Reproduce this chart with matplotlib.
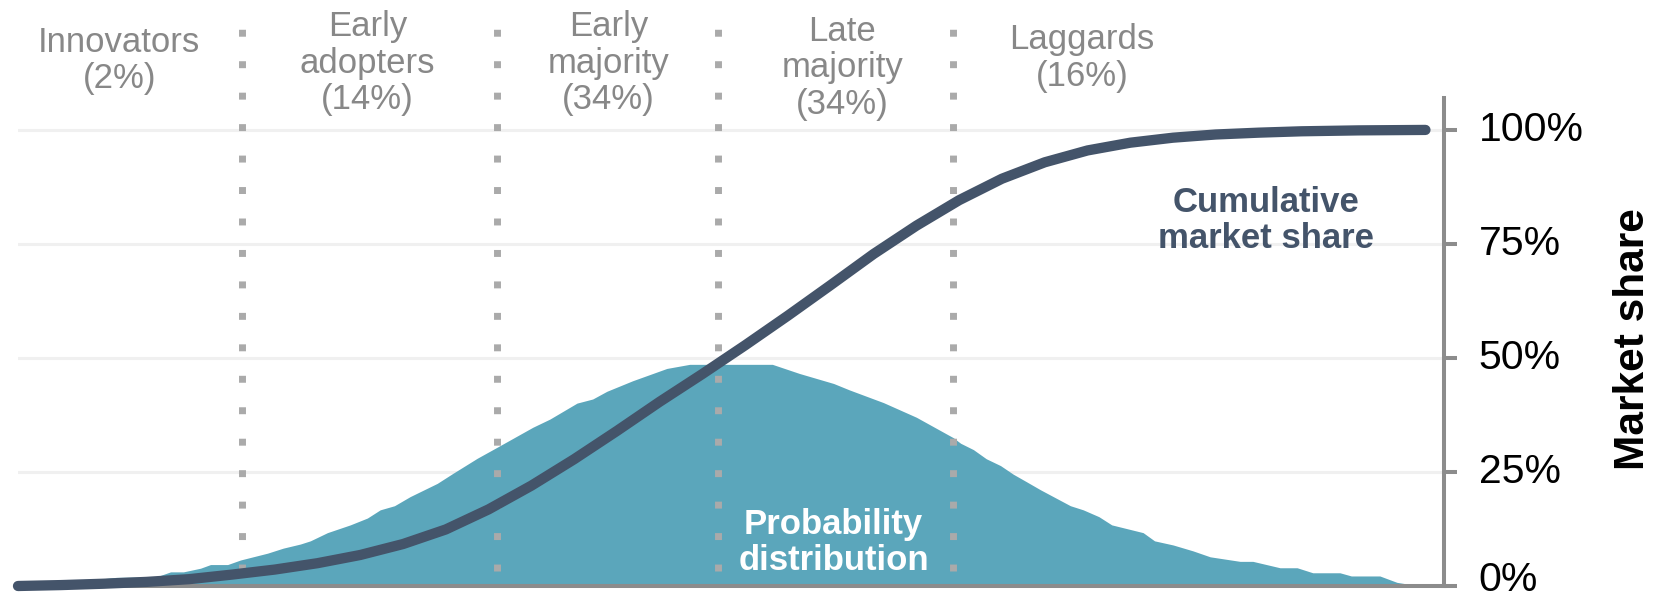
import matplotlib.pyplot as plt
from matplotlib.ticker import FixedLocator
from matplotlib.transforms import ScaledTranslation

plt.rcParams['font.family'] = ['Liberation Sans', 'DejaVu Sans']

# adoption phases (x position of each boundary along the time axis)
phases = ['Innovators\n(2%)', 'Early\nadopters\n(14%)', 'Early\nmajority\n(34%)',
          'Late\nmajority\n(34%)', 'Laggards\n(16%)']
phase_x = [7.1, 24.5, 41.4, 57.8, 74.6]
phase_y = [115.2, 114.6, 114.6, 113.6, 115.8]
boundaries = [15.7, 33.6, 49.1, 65.6]

# probability distribution of adopters (share, %)
dist_x = [0.0, 3.5, 6.9, 9.7, 10.7, 11.6, 12.8, 13.5, 14.7, 15.6, 17.5, 18.6, 19.8,
          20.5, 21.7, 23.3, 24.5, 25.4, 26.4, 27.5, 29.4, 30.5, 32.2, 33.7, 36.1,
          37.3, 39.2, 40.3, 41.3, 43.1, 45.5, 47.1, 52.9, 54.8, 57.2, 58.3, 60.7,
          63.0, 65.6, 66.1, 67.0, 67.9, 68.9, 69.8, 70.7, 71.7, 73.8, 74.7, 75.8,
          76.7, 78.9, 79.7, 81.0, 82.4, 83.6, 85.7, 86.6, 88.5, 89.7, 90.8, 92.7,
          93.5, 95.5, 96.7, 97.5, 100.0]
dist_y = [0.3, 0.8, 1.9, 2.0, 3.1, 3.1, 3.9, 4.7, 4.7, 5.7, 7.2, 8.3, 9.2,
          9.9, 11.7, 13.4, 14.9, 16.7, 17.6, 19.6, 22.5, 24.7, 28.0, 30.6, 34.8,
          36.6, 40.1, 41.0, 42.7, 45.0, 47.7, 48.6, 48.6, 46.6, 44.4, 43.0, 40.2,
          37.0, 32.5, 31.3, 29.9, 27.9, 26.4, 24.5, 22.9, 21.1, 17.6, 16.7, 15.2,
          13.4, 11.7, 9.9, 9.0, 7.7, 6.4, 5.4, 5.4, 4.0, 4.0, 2.9, 2.9,
          2.2, 2.2, 0.8, 0.4, 0.4]

# cumulative market share (%)
cum_x = [0, 3, 6, 9, 12, 15, 18, 21, 24, 27, 30, 33, 36, 39, 42, 45, 48, 51, 54,
         57, 60, 63, 66, 69, 72, 75, 78, 81, 84, 87, 90, 94, 98.7]
cum_y = [0.0, 0.2, 0.5, 0.9, 1.5, 2.5, 3.6, 5.0, 6.8, 9.2, 12.4, 16.8, 22.0, 27.8,
         34.0, 40.4, 46.5, 52.8, 59.3, 66.0, 72.8, 79.0, 84.6, 89.3, 92.9, 95.5,
         97.2, 98.3, 99.0, 99.4, 99.7, 99.9, 100.0]

yticks = [0, 25, 50, 75, 100]
ytick_labels = ['0%', '25%', '50%', '75%', '100%']

dark = '#44546a'
teal = '#5ba6bb'
axis_gray = '#8c8c8c'

fig = plt.figure(figsize=(16.68, 5.98), dpi=100)
ax = fig.add_axes([18/1668, 12/598, 1426/1668, 488/598])
ax.set_xlim(0, 100)
ax.set_ylim(0, 107)

for y in yticks[1:]:
    ax.axhline(y, color='#f0f0f0', lw=2.2, zorder=0)

ax.fill_between(dist_x, 0, dist_y, color=teal, lw=0, zorder=1)

for bx in boundaries:
    ax.plot([bx, bx], [3.2, 123.5], color='#aaaaaa', lw=5.0,
            linestyle=(0, (1, 3.53)), dash_capstyle='butt', clip_on=False, zorder=2)

ax.plot(cum_x, cum_y, color=dark, lw=7.4, solid_capstyle='round',
        solid_joinstyle='round', clip_on=False, zorder=3)

for label, px, py in zip(phases, phase_x, phase_y):
    ax.text(px, py, label, ha='center', va='center', fontsize=25, color='#888888',
            linespacing=1.14, clip_on=False)

ax.text(57.2, 9.6, 'Probability\ndistribution', ha='center', va='center', fontsize=25,
        fontweight='bold', color='white', linespacing=1.1, zorder=4)
ax.text(87.5, 80.2, 'Cumulative\nmarket share', ha='center', va='center', fontsize=25,
        fontweight='bold', color=dark, linespacing=1.1, zorder=4)

# axis on the right only
for side in ['left', 'top']:
    ax.spines[side].set_visible(False)
for side in ['right', 'bottom']:
    ax.spines[side].set_color(axis_gray)
    ax.spines[side].set_linewidth(2.9)
ax.set_xticks([])
ax.yaxis.tick_right()
ax.yaxis.set_major_locator(FixedLocator(yticks))
ax.set_yticklabels(ytick_labels)
ax.tick_params(axis='y', length=9, width=2.9, color=axis_gray, pad=16,
               labelsize=29.5, labelcolor='black')
# nudge tick labels up a few pixels, the bottom one a bit more so it stays on the canvas
for i, lbl in enumerate(ax.get_yticklabels()):
    dy = 10 if i == 0 else 4
    lbl.set_transform(lbl.get_transform() + ScaledTranslation(0, dy/100, fig.dpi_scale_trans))

fig.text(1633/1668, 1 - 339/598, 'Market share', rotation=90, ha='center', va='center',
         fontsize=30.5, fontweight='bold', color='black')

fig.savefig('out.png', dpi=100, facecolor='white')
